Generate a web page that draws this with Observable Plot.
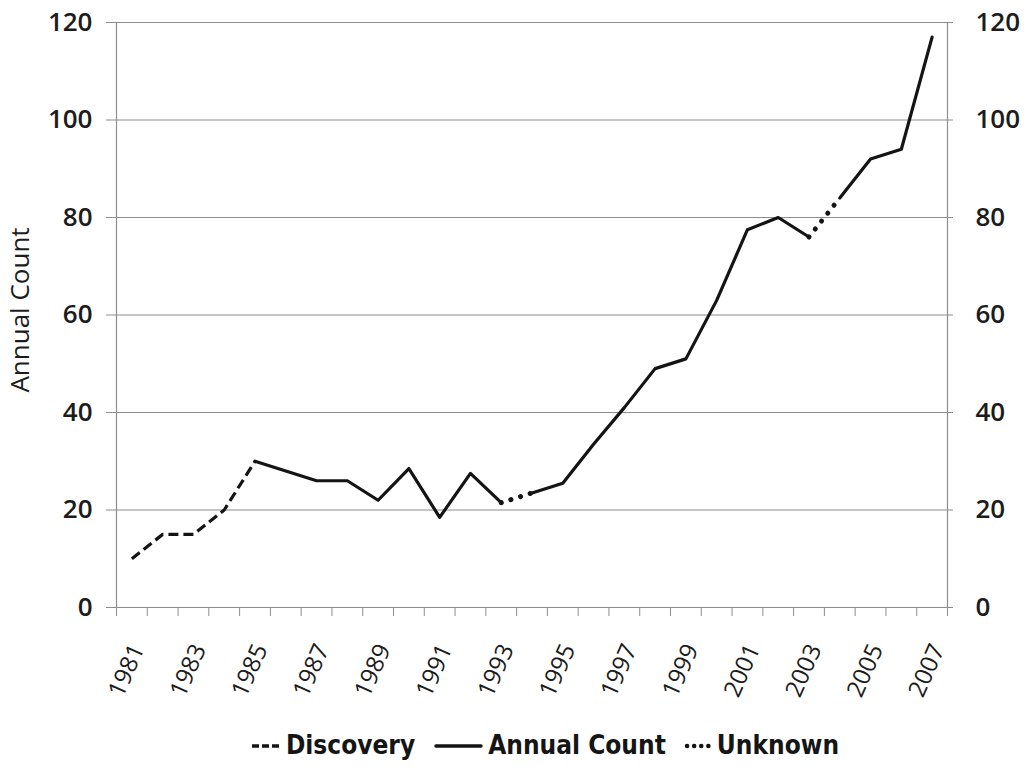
<!DOCTYPE html>
<html>
<head>
<meta charset="utf-8">
<script src="https://cdn.jsdelivr.net/npm/d3@7"></script>
<script src="https://cdn.jsdelivr.net/npm/@observablehq/plot@0.6"></script>
<style>
  body { margin: 0; background: #ffffff; }
  #chart { width: 1026px; }
  #legend {
    width: 1026px; height: 45px; box-sizing: border-box;
    display: flex; justify-content: center; align-items: center;
    padding-left: 62px;
    font-family: "Liberation Sans Narrow", "DejaVu Sans Condensed", "Roboto", sans-serif;
    font-weight: bold; font-size: 26px; color: #151515;
  }
  #legend .item { display: flex; align-items: center; margin: 0 9px; }
  #legend svg { margin-right: 3px; }
</style>
</head>
<body>
<div id="chart"></div>
<div id="legend"></div>
<script>
// ---- data ----
const years = [1981, 1982, 1983, 1984, 1985, 1986, 1987, 1988, 1989, 1990,
               1991, 1992, 1993, 1994, 1995, 1996, 1997, 1998, 1999, 2000,
               2001, 2002, 2003, 2004, 2005, 2006, 2007];
const counts = [10, 15, 15, 20, 30, 28, 26, 26, 22, 28.5,
                18.5, 27.5, 21.5, 23.5, 25.5, 33.5, 41, 49, 51, 63,
                77.5, 80, 76, 84, 92, 94, 117];
// which stretch of the line belongs to which legend entry
const segmentSeries = ["Discovery", "Annual Count", "Unknown", "Annual Count", "Unknown", "Annual Count"];
const segmentStart  = [1981, 1985, 1993, 1994, 2003, 2004];
const segmentEnd    = [1985, 1993, 1994, 2003, 2004, 2007];
const seriesNames = ["Discovery", "Annual Count", "Unknown"];
const yTicks = [0, 20, 40, 60, 80, 100, 120];
const xLabelYears = [1981, 1983, 1985, 1987, 1989, 1991, 1993, 1995, 1997, 1999, 2001, 2003, 2005, 2007];
const yTitle = "Annual Count";

// ---- styles ----
const lineStyles = {
  "Discovery":    { strokeWidth: 3.2, strokeDasharray: "10,5", strokeLinecap: "butt" },
  "Annual Count": { strokeWidth: 3.2, strokeDasharray: null,   strokeLinecap: "round" },
  "Unknown":      { strokeWidth: 5,   strokeDasharray: "0.1,10", strokeLinecap: "round" }
};

const rows = segmentSeries.flatMap((s, i) =>
  years.map((yr, j) => ({ year: yr, count: counts[j], seg: i, series: s }))
       .filter(d => d.year >= segmentStart[i] && d.year <= segmentEnd[i]));

const xDomain = [years[0] - 0.5, years[years.length - 1] + 0.5];
const categoryEdges = d3.range(xDomain[0], xDomain[1] + 0.01, 1);

const gridColor = "#8d8d8d";
const textColor = "#1c1c1c";

const chart = Plot.plot({
  width: 1026,
  height: 722,
  marginTop: 22,
  marginBottom: 115,
  marginLeft: 116,
  marginRight: 79,
  style: { fontFamily: "'Open Sans', 'Liberation Sans', sans-serif", background: "#ffffff", color: textColor },
  x: { type: "linear", domain: xDomain },
  y: { domain: [0, 120] },
  marks: [
    Plot.gridY(yTicks, { stroke: gridColor, strokeOpacity: 1, strokeWidth: 1 }),
    Plot.ruleX(xDomain, { stroke: gridColor, strokeWidth: 1.2 }),
    Plot.ruleY([0], { stroke: gridColor, strokeWidth: 1.2 }),
    Plot.axisY({ anchor: "left", ticks: yTicks, tickSize: 10, tickPadding: 14, label: null,
                 stroke: gridColor, fontSize: 26, fontWeight: 600, fill: textColor }),
    Plot.axisY({ anchor: "right", ticks: yTicks, tickSize: 5, tickPadding: 23, label: null,
                 stroke: gridColor, fontSize: 26, fontWeight: 600, fill: textColor }),
    Plot.axisX({ ticks: categoryEdges, tickSize: 9, tickFormat: () => "", label: null, stroke: gridColor }),
    Plot.axisX({ ticks: xLabelYears, tickSize: 0, tickPadding: 38, tickRotate: -66, label: null, dx: 6,
                 tickFormat: d => String(d), fontSize: 24, fill: textColor }),
    Plot.text([yTitle], { frameAnchor: "left", rotate: -90, dx: -96, dy: -5, textAnchor: "middle",
                          fontSize: 26, fill: textColor, text: d => d }),
    ...seriesNames.map(name => Plot.line(rows.filter(d => d.series === name), {
      x: "year", y: "count", z: "seg",
      stroke: "#141414", strokeLinejoin: "round", ...lineStyles[name]
    }))
  ]
});
document.getElementById("chart").appendChild(chart);

// ---- legend below the chart ----
const legend = document.getElementById("legend");
const sampleWidths = { "Discovery": 30, "Annual Count": 48, "Unknown": 26 };
seriesNames.forEach(name => {
  const st = lineStyles[name];
  const item = document.createElement("div");
  item.className = "item";
  const w = sampleWidths[name];
  const svgNS = "http://www.w3.org/2000/svg";
  const svg = document.createElementNS(svgNS, "svg");
  svg.setAttribute("width", w + 4); svg.setAttribute("height", 20);
  const ln = document.createElementNS(svgNS, "line");
  ln.setAttribute("x1", 3); ln.setAttribute("x2", w); ln.setAttribute("y1", 11); ln.setAttribute("y2", 11);
  ln.setAttribute("stroke", "#141414");
  ln.setAttribute("stroke-width", name === "Unknown" ? 4.5 : 3.5);
  if (st.strokeDasharray) ln.setAttribute("stroke-dasharray", name === "Unknown" ? "0.1,7" : "7,3");
  ln.setAttribute("stroke-linecap", st.strokeLinecap);
  svg.appendChild(ln);
  item.appendChild(svg);
  const span = document.createElement("span");
  span.textContent = name;
  item.appendChild(span);
  legend.appendChild(item);
});
</script>
</body>
</html>
